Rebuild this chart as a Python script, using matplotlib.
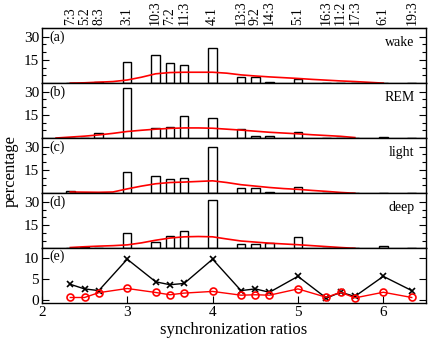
import numpy as np
import matplotlib
matplotlib.use("Agg")
import matplotlib.pyplot as plt

plt.rcParams['font.family'] = ['Liberation Serif', 'DejaVu Serif']

# synchronization ratios n:m
ratio_labels = ['7:3', '5:2', '8:3', '3:1', '10:3', '7:2', '11:3', '4:1', '13:3',
                '9:2', '14:3', '5:1', '16:3', '11:2', '17:3', '6:1', '19:3']
ratios = [7/3, 5/2, 8/3, 3, 10/3, 7/2, 11/3, 4, 13/3,
          9/2, 14/3, 5, 16/3, 11/2, 17/3, 6, 19/3]

# histogram percentages per sleep stage
wake = [0.2, 0.3, 0.8, 13.7, 17.8, 12.8, 11.6, 22.9, 3.9,
        3.9, 0.5, 2.8, 0, 0, 0, 0, 0]
rem = [0, 0, 3.2, 32.2, 6.3, 7.3, 14.1, 12.8, 5.8,
       1.3, 1.3, 3.9, 0, 0, 0, 0.9, 0]
light = [1.3, 0.3, 0.3, 13.7, 11.1, 9.2, 9.6, 30.0, 3.6,
         3.4, 0.9, 4.1, 0, 0, 0, 0.4, 0]
deep = [0.4, 0.9, 0.3, 9.6, 4.3, 7.7, 10.9, 31.0, 3.0,
        2.8, 3.4, 7.3, 0, 0, 0, 1.5, 0]

# smoothed distributions (red curves), read on a grid of 1/6
fit_x = [2.0, 13/6, 7/3, 2.5, 8/3, 17/6, 3.0, 19/6, 10/3, 3.5, 11/3, 23/6, 4.0,
         25/6, 13/3, 4.5, 14/3, 29/6, 5.0, 31/6, 16/3, 5.5, 17/3, 35/6, 6.0]
nan = np.nan
wake_fit = [nan, nan, 0.0, 0.2, 0.6, 1.0, 2.0, 3.8, 6.0, 6.8, 7.0, 7.0, 7.0,
            6.4, 5.3, 4.6, 4.0, 3.5, 3.0, 2.4, 1.9, 1.4, 1.0, 0.5, 0.0]
rem_fit = [nan, 0.1, 0.7, 1.3, 2.1, 3.1, 4.3, 5.1, 5.8, 6.3, 6.6, 6.6, 6.4,
           5.8, 5.2, 4.5, 3.8, 3.3, 2.8, 2.2, 1.7, 1.2, 0.4, nan, nan]
light_fit = [nan, nan, 0.8, 0.7, 0.6, 0.8, 2.8, 4.6, 6.1, 6.9, 7.2, 7.6, 8.0,
             6.9, 5.5, 4.6, 3.7, 3.0, 2.5, 1.8, 1.2, 0.5, 0.0, nan, nan]
deep_fit = [nan, nan, 0.5, 1.0, 1.4, 1.7, 2.2, 3.5, 5.2, 6.6, 7.4, 7.6, 7.4,
            6.0, 4.7, 4.0, 3.3, 2.8, 2.3, 1.7, 1.1, 0.5, 0.0, nan, nan]

# panel (e)
black_e = [3.8, 2.7, 2.3, 9.8, 4.4, 3.7, 4.0, 9.8, 2.3,
           2.7, 1.9, 5.7, 0.5, 1.9, 0.9, 5.7, 2.3]
red_e = [0.65, 0.65, 1.8, 2.8, 1.85, 1.3, 1.7, 2.1, 1.2,
         1.3, 1.2, 2.7, 0.7, 1.9, 0.55, 1.9, 0.65]

stages = [('(a)', 'wake', wake, wake_fit),
          ('(b)', 'REM', rem, rem_fit),
          ('(c)', 'light', light, light_fit),
          ('(d)', 'deep', deep, deep_fit)]

fig, axes = plt.subplots(5, 1, figsize=(4.36, 3.42), dpi=100, sharex=True)
fig.subplots_adjust(left=0.096, right=0.977, bottom=0.113, top=0.918, hspace=0)

for ax, (tag, name, vals, fit) in zip(axes[:4], stages):
    ax.bar(ratios, vals, width=0.1, facecolor='white', edgecolor='black',
           linewidth=1.0)
    ax.plot(fit_x, fit, color='red', linewidth=1.2)
    ax.set_ylim(0, 35.5)
    ax.set_yticks([15, 30])
    ax.set_yticks([5, 10, 20, 25], minor=True)
    ax.text(0.02, 0.96, tag, transform=ax.transAxes, ha='left', va='top',
            fontsize=10)
    ax.text(0.97, 0.86, name, transform=ax.transAxes, ha='right', va='top',
            fontsize=10)

ax = axes[4]
ax.plot(ratios, black_e, color='black', marker='x', markersize=4,
        markeredgewidth=1.2, linewidth=1.0)
ax.plot(ratios, red_e, color='red', marker='o', markersize=5,
        markerfacecolor='none', markeredgewidth=1.2, linewidth=1.0)
ax.set_ylim(-0.75, 12.4)
ax.set_yticks([0, 5, 10])
ax.text(0.02, 0.98, '(e)', transform=ax.transAxes, ha='left', va='top',
        fontsize=10)
ax.set_xlim(2, 6.5)
ax.set_xticks([2, 3, 4, 5, 6])
ax.set_xlabel('synchronization ratios', fontsize=12, labelpad=2)

for a in axes:
    a.tick_params(which='both', direction='in', right=True, labelsize=11,
                  pad=2, width=0.8)
    a.tick_params(which='major', length=5)
    a.tick_params(which='minor', length=3)
    for s in a.spines.values():
        s.set_linewidth(1.0)
for a in axes[:4]:
    a.tick_params(axis='x', which='both', bottom=False)

top = axes[0].secondary_xaxis('top')
top.set_xticks(ratios)
top.set_xticklabels(ratio_labels, rotation=90, fontsize=10)
top.tick_params(length=0, pad=2)

fig.text(0.025, 0.5, 'percentage', rotation=90, ha='center', va='center',
         fontsize=12)

fig.savefig('out.png', dpi=100)
